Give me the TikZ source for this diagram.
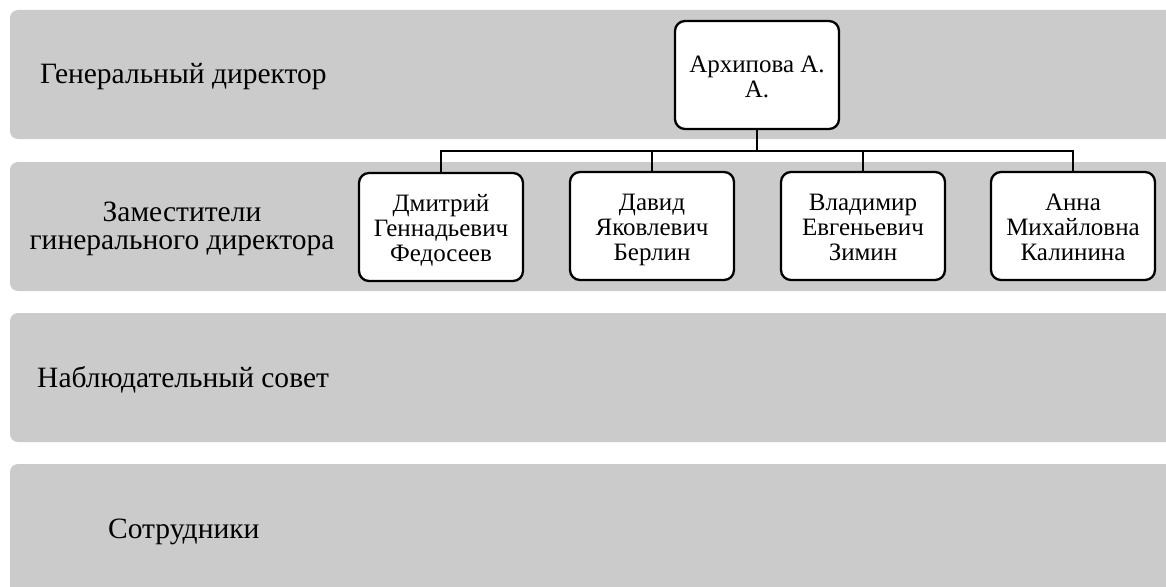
\documentclass[tikz,border=0pt]{standalone}
\usepackage{fontspec}
\setmainfont{Liberation Serif}
\definecolor{bandgrey}{RGB}{203,203,203}
\newcommand\tstrut{\rule{0pt}{27pt}}
\newcommand\bstrut{\rule[-7.2pt]{0pt}{7.2pt}}
\tikzset{
  band/.style={fill=bandgrey, rounded corners=8pt},
  bandlabel/.style={font=\fontsize{29.5}{28}\selectfont, align=center, inner sep=0pt},
  person/.style={draw=black, fill=white, line width=2.3pt, rounded corners=10pt,
    minimum width=164pt, minimum height=108pt, align=center, inner sep=0pt,
    font=\fontsize{25}{25}\selectfont},
  conn/.style={draw=black, line width=2.2pt}
}
\begin{document}
\begin{tikzpicture}[x=1pt,y=-1pt]
\clip (0,0) rectangle (1166,586);
\fill[white] (0,0) rectangle (1166,586);
% bands
\fill[band] (10,10) rectangle (1185,139);
\fill[band] (10,162) rectangle (1185,291);
\fill[band] (10,313) rectangle (1185,442);
\fill[band] (10,464) rectangle (1185,600);
% band labels
\node[bandlabel, anchor=base west] (l1) at (40,83) {Генеральный директор};
\node[bandlabel, anchor=center] (l2) at (182,229) {Заместители\\гинерального директора};
\node[bandlabel, anchor=base west] (l3) at (37,387) {Наблюдательный совет};
\node[bandlabel, anchor=base west] (l4) at (108,538) {Сотрудники};
% persons
\node[person] (top) at (757,75) {\tstrut Архипова А.\\А.\bstrut};
\node[person] (b1) at (441,227) {\tstrut Дмитрий\\Геннадьевич\\Федосеев\bstrut};
\node[person] (b2) at (652,226) {\tstrut Давид\\Яковлевич\\Берлин\bstrut};
\node[person] (b3) at (863,226) {\tstrut Владимир\\Евгеньевич\\Зимин\bstrut};
\node[person] (b4) at (1073,226) {\tstrut Анна\\Михайловна\\Калинина\bstrut};
% connectors
\coordinate (bus) at (0,151);
\foreach \b in {b1,b2,b3,b4}
  \draw[conn] (top.south) -- (top.south |- bus) -| (\b.north);
\end{tikzpicture}
\end{document}
